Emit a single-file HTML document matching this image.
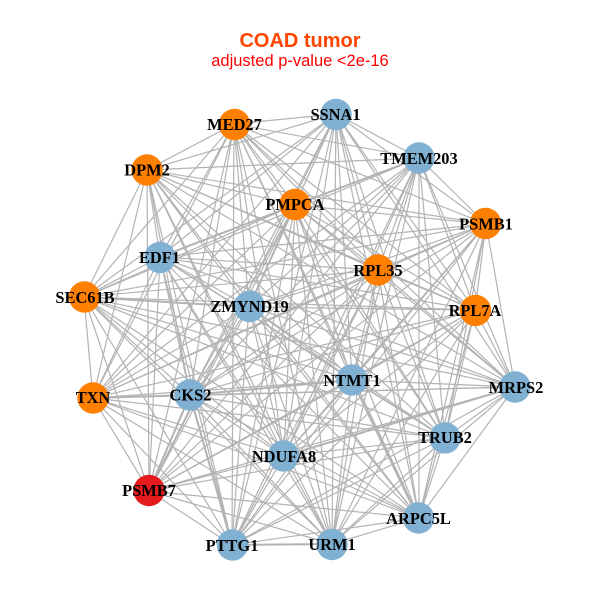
<!DOCTYPE html>
<html>
<head>
<meta charset="utf-8">
<style>
html,body{margin:0;padding:0;background:#fff;}
svg{display:block;}
.l{font-family:"Liberation Serif",serif;font-weight:bold;font-size:16.4px;fill:#000;text-anchor:middle;}
.t{font-family:"Liberation Sans",sans-serif;text-anchor:middle;}
</style>
</head>
<body>
<svg xmlns="http://www.w3.org/2000/svg" width="600" height="600" viewBox="0 0 600 600">
<rect width="600" height="600" fill="#fff"/>
<g fill="none" stroke="#b3b3b3" stroke-width="1.2">
<path d="M336,114 234,124 419,158 147,170 295,205 486,224 160,257 378,270 84,297 249,307 475,310 352,380 515,387 93,398 190,395 445,438 284,456 149,491 419,518 232,545 332,544Z"/>
<path d="M336,114 419,158 295,205 160,257 84,297 475,310 515,387 190,395 284,456 419,518 332,544 234,124 147,170 486,224 378,270 249,307 352,380 93,398 445,438 149,491 232,545Z"/>
<path d="M336,114 295,205 84,297 515,387 284,456 332,544 147,170 378,270 352,380 445,438 232,545 419,158 160,257 475,310 190,395 419,518 234,124 486,224 249,307 93,398 149,491Z"/>
<path d="M336,114 486,224 475,310 445,438 332,544 295,205 249,307 190,395 232,545 147,170 84,297 93,398 419,518 419,158 378,270 515,387 149,491 234,124 160,257 352,380 284,456Z"/>
<path d="M336,114 84,297 284,456 147,170 352,380 232,545 160,257 190,395 234,124 249,307 149,491 295,205 515,387 332,544 378,270 445,438 419,158 475,310 419,518 486,224 93,398Z"/>
<path d="M336,114 475,310 332,544 249,307 232,545 84,297 419,518 378,270 149,491 160,257 284,456 486,224 445,438 295,205 190,395 147,170 93,398 419,158 515,387 234,124 352,380Z"/>
<path d="M336,114 147,170 160,257 249,307 515,387 445,438 419,518Z"/>
<path d="M234,124 295,205 378,270 475,310 93,398 284,456 232,545Z"/>
<path d="M419,158 486,224 84,297 352,380 190,395 149,491 332,544Z"/>
<path d="M336,114 160,257 515,387 419,518 147,170 249,307 445,438Z"/>
<path d="M234,124 378,270 93,398 232,545 295,205 475,310 284,456Z"/>
<path d="M419,158 84,297 190,395 332,544 486,224 352,380 149,491Z"/>
<path d="M336,114 249,307 419,518 160,257 445,438 147,170 515,387Z"/>
<path d="M234,124 475,310 232,545 378,270 284,456 295,205 93,398Z"/>
<path d="M419,158 352,380 332,544 84,297 149,491 486,224 190,395Z"/>
<path d="M336,114 378,270 190,395Z"/>
<path d="M234,124 84,297 445,438Z"/>
<path d="M419,158 249,307 284,456Z"/>
<path d="M147,170 475,310 149,491Z"/>
<path d="M295,205 352,380 419,518Z"/>
<path d="M486,224 515,387 232,545Z"/>
<path d="M160,257 93,398 332,544Z"/>
</g>
<g fill="none" stroke="#b3b3b3" stroke-width="2">
<path d="M419,158 295,205"/>
<path d="M160,257 295,205"/>
<path d="M84,297 249,307"/>
<path d="M93,398 190,395"/>
<path d="M190,395 352,380"/>
<path d="M190,395 149,491"/>
<path d="M190,395 232,545"/>
<path d="M232,545 332,544"/>
<path d="M515,387 284,456"/>
<path d="M295,205 249,307"/>
<path d="M352,380 418,518"/>
</g>
<g fill="#80b1d3">
<circle cx="336" cy="114.5" r="15.7"/>
<circle cx="419" cy="158" r="15.7"/>
<circle cx="160" cy="257.5" r="15.7"/>
<circle cx="249.5" cy="306.5" r="15.7"/>
<circle cx="352" cy="380" r="15.7"/>
<circle cx="515" cy="387" r="15.7"/>
<circle cx="190" cy="395" r="15.7"/>
<circle cx="445" cy="438" r="15.7"/>
<circle cx="283.5" cy="456" r="15.7"/>
<circle cx="418.5" cy="518" r="15.7"/>
<circle cx="232.5" cy="545" r="15.7"/>
<circle cx="332" cy="544.5" r="15.7"/>
</g>
<g fill="#ff7f00">
<circle cx="234.5" cy="124.5" r="15.7"/>
<circle cx="147" cy="170" r="15.7"/>
<circle cx="295" cy="204.5" r="15.7"/>
<circle cx="485.5" cy="223.5" r="15.7"/>
<circle cx="378" cy="270" r="15.7"/>
<circle cx="84.5" cy="297" r="15.7"/>
<circle cx="475.5" cy="310.5" r="15.7"/>
<circle cx="93" cy="398" r="15.7"/>
</g>
<circle cx="149" cy="490.5" r="15.7" fill="#e41a1c"/>
<text class="l" x="335.5" y="120">SSNA1</text>
<text class="l" x="234.5" y="130">MED27</text>
<text class="l" x="419" y="164">TMEM203</text>
<text class="l" x="147" y="175.5">DPM2</text>
<text class="l" x="295" y="210">PMPCA</text>
<text class="l" x="486" y="229.5">PSMB1</text>
<text class="l" x="159.5" y="263">EDF1</text>
<text class="l" x="378" y="276">RPL35</text>
<text class="l" x="85" y="303">SEC61B</text>
<text class="l" x="249.5" y="312">ZMYND19</text>
<text class="l" x="475" y="316">RPL7A</text>
<text class="l" x="352" y="386">NTMT1</text>
<text class="l" x="516" y="393">MRPS2</text>
<text class="l" x="93" y="403">TXN</text>
<text class="l" x="190.5" y="400.5">CKS2</text>
<text class="l" x="445" y="443">TRUB2</text>
<text class="l" x="284" y="462">NDUFA8</text>
<text class="l" x="149" y="496">PSMB7</text>
<text class="l" x="418.5" y="524">ARPC5L</text>
<text class="l" x="232" y="551">PTTG1</text>
<text class="l" x="332" y="550">URM1</text>
<text class="t" x="300" y="47" font-size="20" font-weight="bold" fill="#ff4500">COAD tumor</text>
<text class="t" x="300" y="66" font-size="16.5" fill="#ff0000">adjusted p-value &lt;2e-16</text>
</svg>
</body>
</html>
